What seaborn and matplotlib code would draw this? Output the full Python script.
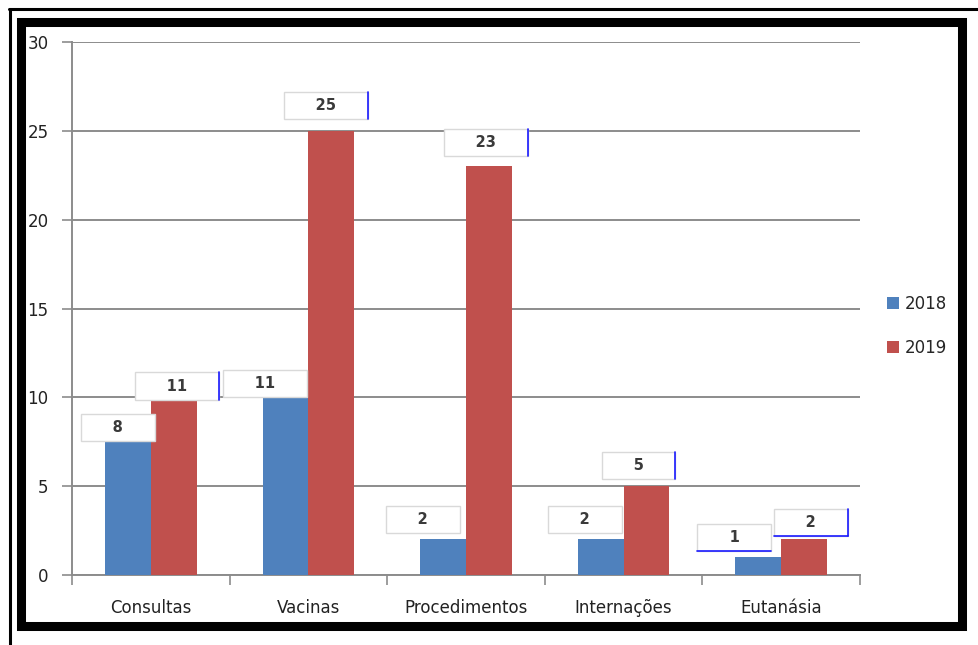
import pandas as pd
import seaborn as sns
import matplotlib.pyplot as plt
from matplotlib.lines import Line2D
from matplotlib.patches import Rectangle

categorias = ['Consultas', 'Vacinas', 'Procedimentos', 'Internações', 'Eutanásia']
anos = ['2018', '2019']
valores_2018 = [7.5, 10, 2, 2, 1]
valores_2019 = [9.9, 25, 23, 5, 2]
rotulos_2018 = ['8', '11', '2', '2', '1']
rotulos_2019 = ['11', '25', '23', '5', '2']
yticks = [0, 5, 10, 15, 20, 25, 30]

# offsets (pixels) of each label box centre from the top of its bar
desloc_2018 = [(-10, 14), (-21, 14), (-20, 20), (-16, 20), (-24, 20)]
desloc_2019 = [(3, 13), (-5, 25), (-3, 24), (-8, 21), (7, 17)]
# stray blue edges on some of the label boxes
realce_2018 = ['', '', '', '', 'b']
realce_2019 = ['r', 'r', 'r', 'r', 'rb']

df = pd.DataFrame({
    'categoria': categorias * 2,
    'ano': [anos[0]] * 5 + [anos[1]] * 5,
    'valor': valores_2018 + valores_2019,
})

sns.set_style('white')
plt.rcParams['font.family'] = ['DejaVu Sans']

fig = plt.figure(figsize=(9.79, 6.45), dpi=100)
ax = fig.add_axes([72 / 979, 1 - 575 / 645, (860 - 72) / 979, (575 - 42) / 645])

cores = {'2018': '#4F81BD', '2019': '#C0504D'}
sns.barplot(data=df, x='categoria', y='valor', hue='ano', palette=cores,
            width=0.58, saturation=1, linewidth=0, ax=ax, zorder=3)

ax.set_ylim(0, 30)
ax.set_xlim(-0.5, 4.5)
ax.set_yticks(yticks)
ax.yaxis.grid(True, color='#8c8c8c', linewidth=1.4, zorder=0)
ax.set_axisbelow(True)
ax.set_xlabel('')
ax.set_ylabel('')
for s in ['top', 'right']:
    ax.spines[s].set_visible(False)
for s in ['left', 'bottom']:
    ax.spines[s].set_color('#8c8c8c')
    ax.spines[s].set_linewidth(1.4)

ax.tick_params(axis='y', length=7, color='#8c8c8c', width=1.2, labelsize=12,
               labelcolor='#222222', pad=10, left=True)
ax.set_xticks(range(5))
ax.set_xticklabels(categorias)
ax.tick_params(axis='x', length=0, labelsize=12, labelcolor='#222222', pad=17)
ax.set_xticks([-0.5, 0.5, 1.5, 2.5, 3.5, 4.5], minor=True)
ax.tick_params(axis='x', which='minor', length=7, color='#8c8c8c', width=1.2,
               bottom=True)

# data labels in white boxes
barras = [p for p in ax.patches if p.get_height() > 0]
barras = sorted(barras, key=lambda p: p.get_x())
pares = []
for i in range(5):
    pares.append((barras[2 * i], rotulos_2018[i], desloc_2018[i], realce_2018[i]))
    pares.append((barras[2 * i + 1], rotulos_2019[i], desloc_2019[i], realce_2019[i]))
anotacoes = []
for barra, texto, (dx, dy), realce in pares:
    cx = barra.get_x() + barra.get_width() / 2
    a = ax.annotate('     ' + texto + '     ', xy=(cx, barra.get_height()),
                    xytext=(dx * 0.72, dy * 0.72),
                    textcoords='offset points', ha='center', va='center',
                    fontsize=10.5, fontweight='bold', color='#3a3a3a', zorder=5,
                    bbox=dict(boxstyle='square,pad=0.42', fc='white', ec='#d9d9d9', lw=1),
                    annotation_clip=False)
    anotacoes.append((a, realce))

leg = ax.legend(loc='center left', bbox_to_anchor=(880 / 979, 1 - 326 / 645),
                bbox_transform=fig.transFigure, frameon=False, fontsize=12,
                handlelength=0.75, handleheight=0.75, handletextpad=0.35,
                labelspacing=1.55, borderaxespad=0)

fig.canvas.draw()
W, H = fig.bbox.width, fig.bbox.height
for a, realce in anotacoes:
    bb = a.get_bbox_patch().get_window_extent()
    if 'r' in realce:
        fig.lines.append(Line2D([bb.x1 / W, bb.x1 / W], [bb.y0 / H, bb.y1 / H],
                                transform=fig.transFigure, color='#1a1aff', lw=1.2, zorder=6))
    if 'b' in realce:
        fig.lines.append(Line2D([bb.x0 / W, bb.x1 / W], [bb.y0 / H, bb.y0 / H],
                                transform=fig.transFigure, color='#1a1aff', lw=1.2, zorder=6))

# picture frame
fig.patches.append(Rectangle((21.5 / 979, 1 - 625.5 / 645), 940 / 979, 604 / 645,
                             transform=fig.transFigure, fill=False,
                             ec='black', lw=6.5, zorder=10))
fig.lines.append(Line2D([9 / 979, 1], [1 - 8.5 / 645, 1 - 8.5 / 645],
                        transform=fig.transFigure, color='black', lw=2.2))
fig.lines.append(Line2D([9.5 / 979, 9.5 / 979], [0, 1 - 8.5 / 645],
                        transform=fig.transFigure, color='black', lw=2.2))

fig.savefig('out.png', dpi=100)
